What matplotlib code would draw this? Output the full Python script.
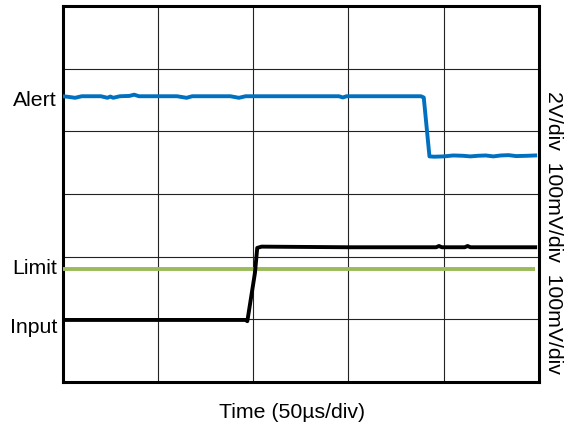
import matplotlib
matplotlib.use("Agg")
import matplotlib.pyplot as plt

plt.rcParams['font.family'] = ['Liberation Sans', 'DejaVu Sans']

# time in us (50 us/div), level in screen divisions
alert_t = [0, 3, 6.5, 10, 20, 23.5, 25, 26.5, 30, 35, 37.5, 40, 60, 65, 68, 88,
           92.5, 96, 145, 147, 149, 188, 189.5, 192.5, 195, 200, 205, 210, 214,
           218, 222, 226, 230, 234, 238, 244, 248]
alert_v = [4.56, 4.55, 4.535, 4.56, 4.56, 4.535, 4.555, 4.535, 4.56, 4.565, 4.585,
           4.56, 4.56, 4.535, 4.56, 4.56, 4.535, 4.56, 4.56, 4.54, 4.56, 4.56,
           4.54, 3.60, 3.595, 3.60, 3.615, 3.61, 3.60, 3.61, 3.615, 3.60, 3.615,
           3.62, 3.605, 3.61, 3.615]

input_t = [0, 96, 96.9, 100.9, 102.1, 104.4, 150, 196, 197.5, 199, 211, 212.5,
           214, 248]
input_v = [0.99, 0.99, 0.97, 1.74, 2.14, 2.16, 2.15, 2.15, 2.17, 2.15, 2.15,
           2.17, 2.15, 2.15]

limit_t = [0, 248]
limit_v = [1.80, 1.80]

fig = plt.figure(figsize=(5.65, 4.29), dpi=100)
ax = fig.add_axes([0.111, 0.1096, 0.843, 0.8764])

ax.plot(limit_t, limit_v, color='#9BBB59', lw=2.8, solid_capstyle='butt', zorder=3)
ax.plot(input_t, input_v, color='black', lw=2.8, solid_joinstyle='round', zorder=4)
ax.plot(alert_t, alert_v, color='#0070C0', lw=2.8, solid_joinstyle='round', zorder=5)

ax.set_xlim(0, 250)
ax.set_ylim(0, 6)
ax.set_xticks([50, 100, 150, 200])
ax.set_yticks([1, 2, 3, 4, 5])
ax.grid(True, color='#222222', lw=0.8)
ax.tick_params(length=0, labelbottom=False, labelleft=False)
for s in ax.spines.values():
    s.set_linewidth(2.2)

fs = 15.3
W, H = 565, 429
fig.text(57 / W, 1 - 106 / H, 'Alert', ha='right', va='baseline', fontsize=fs)
fig.text(57 / W, 1 - 274 / H, 'Limit', ha='right', va='baseline', fontsize=fs)
fig.text(57 / W, 1 - 333 / H, 'Input', ha='right', va='baseline', fontsize=fs)
fig.text(292 / W, 1 - 413 / H, 'Time (50µs/div)', ha='center', va='center', fontsize=fs)
fig.text(553 / W, 1 - 232 / H, '2V/div  100mV/div  100mV/div', rotation=-90,
         ha='center', va='center', fontsize=fs)

fig.savefig('out.png', dpi=100)
